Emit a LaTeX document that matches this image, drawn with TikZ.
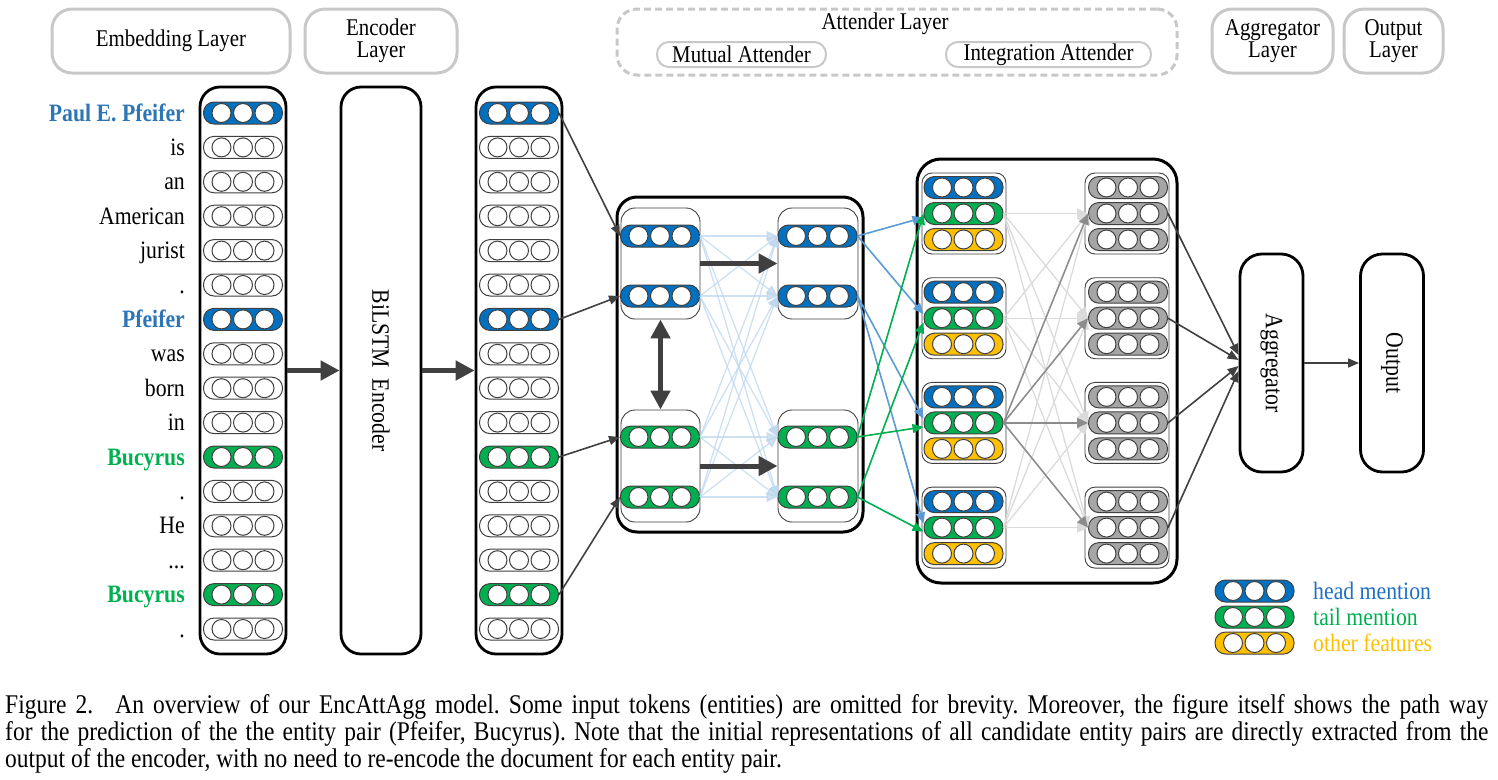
\documentclass[tikz,border=0pt]{standalone}
\usepackage{fontspec}
\setmainfont{Liberation Serif}[FakeStretch=0.87]
\usetikzlibrary{arrows.meta}
\definecolor{hblue}{HTML}{0070C0}
\definecolor{tgreen}{HTML}{00B050}
\definecolor{oyellow}{HTML}{FFC000}
\definecolor{pgray}{HTML}{A6A6A6}
\definecolor{dgray}{HTML}{404040}
\definecolor{hdrgray}{HTML}{C8C8C8}
\definecolor{lblue}{HTML}{BDD7EE}
\definecolor{mblue}{HTML}{5B9BD5}
\definecolor{lbltext}{HTML}{2E75B6}
\definecolor{legblue}{HTML}{1F6FC5}
\tikzset{
  pillbase/.style={rectangle, rounded corners=10.5pt, minimum width=79pt, minimum height=22pt, inner sep=0pt, line width=1pt, draw=dgray},
  wpill/.style={pillbase, fill=white},
  bpill/.style={pillbase, fill=hblue},
  gpill/.style={pillbase, fill=tgreen},
  ypill/.style={pillbase, fill=oyellow},
  rpill/.style={pillbase, fill=pgray},
  circ/.style={draw=dgray, fill=white, line width=1pt},
  colbox/.style={draw=black, line width=2.8pt, rounded corners=20pt, minimum width=86pt, minimum height=567pt, inner sep=0pt},
  outerbox/.style={draw=black, line width=3pt, rounded corners=20pt, inner sep=0pt},
  grp/.style={draw=dgray, line width=0.9pt, rounded corners=14pt, inner sep=0pt, fill=white},
  hdr/.style={draw=hdrgray, line width=3pt, rounded corners=20pt, minimum height=64pt, align=center, font=\fontsize{24}{22}\selectfont, inner sep=0pt},
  hdrdash/.style={draw=hdrgray, line width=3pt, rounded corners=20pt, dash pattern=on 7pt off 4pt, inner sep=0pt},
  subhdr/.style={draw=hdrgray, line width=2pt, rounded corners=12pt, minimum height=25pt, font=\fontsize{24}{24}\selectfont, inner sep=0pt},
  hdrtext/.style={font=\fontsize{24}{24}\selectfont, inner sep=0pt},
  tok/.style={font=\fontsize{25}{27}\selectfont, inner sep=0pt},
  rot/.style={rotate=-90, font=\fontsize{25}{27}\selectfont, inner sep=0pt},
  aggbox/.style={draw=black, line width=2.8pt, rounded corners=22pt, minimum width=63pt, minimum height=218pt, inner sep=0pt},
  bigarrow/.style={draw=dgray, line width=5pt, -{Triangle[length=19pt,width=19pt]}},
  dblarrow/.style={draw=dgray, line width=5pt, {Triangle[length=19pt,width=19pt]}-{Triangle[length=19pt,width=19pt]}},
  darr/.style={draw=dgray, line width=1.6pt, -{Triangle[length=11pt,width=9pt]}},
  barr/.style={draw=mblue, line width=1.6pt, -{Triangle[length=11pt,width=9pt]}},
  garr/.style={draw=tgreen, line width=1.6pt, -{Triangle[length=11pt,width=9pt]}},
  faintb/.style={draw=lblue, draw opacity=0.75, fill opacity=0.75, line width=1.3pt, -{Triangle[length=11pt,width=10pt]}},
  faintg/.style={draw=black!14, line width=1.3pt, -{Triangle[length=11pt,width=10pt]}},
  hlg/.style={draw=black!45, line width=1.5pt, -{Triangle[length=11pt,width=10pt]}},
  leg/.style={font=\fontsize{25}{27}\selectfont, inner sep=0pt, anchor=west},
  captext/.style={font=\fontsize{27}{27}\selectfont\frenchspacing, inner sep=0pt, anchor=base west}
}
\newcommand\mkpill[4]{%
  \node[#4] (#1) at (#2,#3) {};
  \foreach \dx in {-21.5,0,21.5}{\draw[circ] ([xshift=\dx pt]#1.center) circle[radius=9.5pt];}%
}
\newcommand\tdots{...}
\begin{document}
\begin{tikzpicture}[x=1pt,y=-1pt]
\useasboundingbox (0,0) rectangle (1498,779);

% headers
\node[hdr, minimum width=238pt] (hEmb) at (171,41) {Embedding Layer};
\node[hdr, minimum width=152pt] (hEnc) at (381,41) {Encoder\\Layer};
\node[hdrdash, minimum width=560pt, minimum height=66pt] (hAtt) at (897,42) {};
\node[hdrtext] (tAtt) at (885,24) {Attender Layer};
\node[subhdr, minimum width=169pt] (hMut) at (741.5,54.5) {Mutual Attender};
\node[subhdr, minimum width=205pt] (hInt) at (1048.5,54.5) {Integration Attender};
\node[hdr, minimum width=121pt] (hAgg) at (1272.5,41) {Aggregator\\Layer};
\node[hdr, minimum width=99pt] (hOut) at (1393.5,41) {Output\\Layer};

% columns
\node[colbox] (embcol) at (243,370.5) {};
\node[colbox, minimum width=80pt] (enc) at (381,370.5) {};
\node[rot] (encT) at (enc) {BiLSTM\ \ Encoder};
\node[colbox] (outcol) at (519,370.5) {};

\foreach \i/\st/\lab in {0/bpill/{\color{lbltext}\bfseries Paul E. Pfeifer},1/wpill/is,2/wpill/an,3/wpill/American,4/wpill/jurist,5/wpill/.,6/bpill/{\color{lbltext}\bfseries Pfeifer},7/wpill/was,8/wpill/born,9/wpill/in,10/gpill/{\color{tgreen}\bfseries Bucyrus},11/wpill/.,12/wpill/He,13/wpill/\tdots,14/gpill/{\color{tgreen}\bfseries Bucyrus},15/wpill/.}{
  \pgfmathsetmacro\yy{113+34.4*\i}
  \node[tok, anchor=base east] (w\i) at (185,\yy+8) {\lab};
  \mkpill{e\i}{243}{\yy}{\st}
  \mkpill{o\i}{519}{\yy}{\st}
}

\draw[bigarrow] (embcol.east) -- (enc.west);
\draw[bigarrow] (enc.east) -- (outcol.west);

% attender
\node[outerbox, minimum width=246pt, minimum height=335pt] (att) at (740,364.5) {};
\node[grp, minimum width=79pt, minimum height=111pt] (gLT) at (660.5,263.5) {};
\node[grp, minimum width=79pt, minimum height=112pt] (gLB) at (660.5,466) {};
\node[grp, minimum width=80pt, minimum height=111pt] (gRT) at (818,263.5) {};
\node[grp, minimum width=80pt, minimum height=112pt] (gRB) at (818,466) {};
\mkpill{a1}{660}{236}{bpill}
\mkpill{a2}{660}{296}{bpill}
\mkpill{a3}{660}{437}{gpill}
\mkpill{a4}{660}{497}{gpill}
\mkpill{b1}{817.5}{236}{bpill}
\mkpill{b2}{817.5}{296}{bpill}
\mkpill{b3}{817.5}{437}{gpill}
\mkpill{b4}{817.5}{497}{gpill}
\foreach \s in {1,...,4}{\foreach \t in {1,...,4}{\draw[faintb] (a\s.east) -- (b\t.west);}}
\draw[bigarrow] (gLT.east) -- (gRT.west);
\draw[bigarrow] (gLB.east) -- (gRB.west);
\draw[dblarrow] (gLT.south) -- (gLB.north);

\draw[darr] (o0.east) -- (a1.west);
\draw[darr] (o6.east) -- (a2.west);
\draw[darr] (o10.east) -- (a3.west);
\draw[darr] (o14.east) -- (a4.west);

% integration
\node[outerbox, minimum width=260pt, minimum height=424pt, rounded corners=24pt] (integ) at (1047,371) {};
\foreach \k/\yy in {1/213.5,2/318.2,3/422.9,4/527.6}{
  \node[grp, minimum width=84pt, minimum height=81pt, rounded corners=10pt] (L\k) at (964,\yy) {};
  \node[grp, minimum width=84pt, minimum height=81pt, rounded corners=10pt] (R\k) at (1127,\yy) {};
  \mkpill{lb\k}{963.5}{\yy-26}{bpill}
  \mkpill{lg\k}{963.5}{\yy}{gpill}
  \mkpill{ly\k}{963.5}{\yy+26}{ypill}
  \mkpill{ra\k}{1128}{\yy-26}{rpill}
  \mkpill{rb\k}{1128}{\yy}{rpill}
  \mkpill{rc\k}{1128}{\yy+26}{rpill}
}
\foreach \k in {1,...,4}{\foreach \j in {1,...,4}{\draw[faintg] (lg\k.east) -- (rb\j.west);}}
\foreach \j in {1,...,4}{\draw[hlg] (lg3.east) -- (rb\j.west);}

\draw[barr] (b1.east) -- ([yshift=-4pt]lg1.west);
\draw[barr] (b1.east) -- ([yshift=4pt]lg2.west);
\draw[barr] (b2.east) -- ([yshift=4pt]lg3.west);
\draw[barr] (b2.east) -- ([yshift=4pt]lg4.west);
\draw[garr] (b3.east) -- ([yshift=0pt]lg1.west);
\draw[garr] (b3.east) -- ([yshift=-4pt]lg3.west);
\draw[garr] (b4.east) -- ([yshift=-4pt]lg2.west);
\draw[garr] (b4.east) -- ([yshift=-4pt]lg4.west);

% aggregator / output
\node[aggbox] (agg) at (1271.5,363) {};
\node[rot] (aggT) at (agg) {Aggregator};
\node[aggbox] (out) at (1392,363) {};
\node[rot] (outT) at (out) {Output};
\draw[darr] (rb1.east) -- ([yshift=8pt]agg.west);
\draw[darr] (rb2.east) -- ([yshift=3pt]agg.west);
\draw[darr] (rb3.east) -- ([yshift=-3pt]agg.west);
\draw[darr] (rb4.east) -- ([yshift=-8pt]agg.west);
\draw[darr] (agg.east) -- (out.west);

% legend
\mkpill{k1}{1254.5}{591}{bpill}
\mkpill{k2}{1254.5}{617}{gpill}
\mkpill{k3}{1254.5}{643}{ypill}
\node[leg, text=legblue] (kt1) at (1313,591) {head mention};
\node[leg, text=tgreen] (kt2) at (1313,617) {tail mention};
\node[leg, text=oyellow] (kt3) at (1313,643) {other features};

% caption
\node[captext] (c1) at (5,713) {\hbox to 1483pt{Figure 2.\hskip 22pt An overview of our EncAttAgg model. Some input tokens (entities) are omitted for brevity. Moreover, the figure itself shows the path way}};
\node[captext] (c2) at (5,740) {\hbox to 1483pt{for the prediction of the the entity pair (Pfeifer, Bucyrus). Note that the initial representations of all candidate entity pairs are directly extracted from the}};
\node[captext] (c3) at (5,767) {output of the encoder, with no need to re-encode the document for each entity pair.};
\end{tikzpicture}
\end{document}
